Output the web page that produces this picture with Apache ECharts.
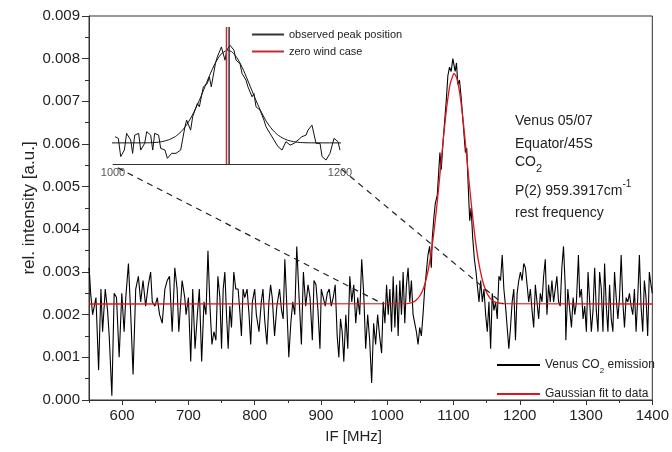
<!DOCTYPE html>
<html>
<head>
<meta charset="utf-8">
<script src="https://cdn.jsdelivr.net/npm/echarts@6/dist/echarts.min.js"></script>
<style>html,body{margin:0;padding:0;background:#fff}#c{width:672px;height:452px}</style>
</head>
<body>
<div id="c"></div>
<script>
// ---- main spectrum (IF in MHz, relative intensity) ----
const ifMHz = [550,551,552.5,555.5,560.5,564.5,568,570.5,574.5,578,580.5,584.5,588,591.5,595.5,599.5,603,605.5,609.5,613,616.5,620.5,624.5,628,631.5,635.5,639.5,643,645.5,649.5,653,656.5,660.5,664.5,668,671.5,675.5,679.5,683,685.5,690.5,694.5,
696.5,700,703.5,706.5,710,713.5,716.5,720,723.5,726.5,729.5,732.5,735.5,738.5,741.5,744.5,747.5,750,752.5,755,757.5,760,762.5,765,768.5,771.5,775,777.5,780,782.5,785,788.5,791.5,794,796.5,800,802.5,806.5,810,812.5,815,818.5,821.5,824,826.5,830,833.5,837.5,840.5,
843,845.5,848.5,851.5,854.5,857.5,860.5,863.5,867,870.5,873.5,877,880.5,883.5,887,889.5,892.5,895.5,898.5,900.5,903.5,906.5,909.5,912.5,915.5,918.5,921.5,924.5,927,929.5,932,934.5,937.5,940.5,943.5,946.5,949.5,952.5,955.5,958.5,961.5,964.5,967.5,970.5,973.5,976.5,979.5,982.5,985.5,988.5,
991.5,994,996.5,999,1001.5,1004,1006.5,1009,1011.5,1014,1016.5,1019,1021.5,1024,1026.5,1029,1031.5,1034,1036.5,1039,1041.5,1044,1046.5,1049,1051.5,1054,1056.5,1059,1061.5,1064,1066.5,1068,1070.5,1072.5,1075.5,1077.5,1079.5,1081.5,1084,1086.5,1089,1091.5,1094,1096.5,1099,1100.5,1102.5,1104.5,1106.5,1109,1111.5,1114,1116.5,1118,1120,1122.5,1124.5,1126.5,1129,1131.5,1134,1136.5,
1138.5,1141,1143.5,1146,1148.5,1151,1153.5,1156,1158.5,1161,1163.5,1166,1168.5,1171,1173.5,1176,1178.5,1181,1183.5,1186,1188.5,1191,1193.5,1196,1198.5,1201,1203.5,1206,1208.5,1211,1213.5,1216,1218.5,1221,1223.5,1226,1228.5,1231,1233.5,1236,1238.5,1241,1243.5,1246,1248.5,1251,1253.5,1256,1258.5,1261,1263.5,1266,1268.5,
1269.5,1272.5,1275.5,1278,1280.5,1283,1285.5,1288.5,1290.5,1293,1295.5,1298,1300.5,1303,1305.5,1308,1310.5,1313,1315.5,1318,1320.5,1323,1325.5,1328,1330.5,1333,1335.5,1338,1340.5,1343,1345.5,1348,1350.5,1353,1355.5,1358,1360.5,1363,1365.5,1368,1370.5,1373,1375.5,1378,1380.5,1383,1385.5,1388,1390.5,1393,1395.5,1398,1400];
const intensity = [0.0031,0.0029,0.0025,0.0020,0.0024,0.0007,0.0026,0.0016,0.0026,0.0021,0.0015,0.0001,0.0025,0.0024,0.0010,0.0025,0.0016,0.0024,0.0032,0.0020,0.0006,0.0026,0.0029,0.0023,0.0028,0.0022,0.0027,0.0030,0.0023,0.0022,0.0024,0.0020,0.0018,0.0026,0.0028,0.0029,0.0016,0.0031,0.0026,0.0016,0.0028,0.0024,
0.0020,0.0024,0.0009,0.0026,0.0012,0.0020,0.0026,0.0009,0.0023,0.0020,0.0035,0.0022,0.0013,0.0016,0.0014,0.0029,0.0024,0.0012,0.0026,0.0030,0.0020,0.0012,0.0022,0.0017,0.0030,0.0026,0.0026,0.0021,0.0015,0.0026,0.0024,0.0026,0.0020,0.0013,0.0023,0.0026,0.0020,0.0016,0.0023,0.0026,0.0019,0.0013,0.0023,0.0027,0.0024,0.0015,0.0022,0.0026,0.0021,
0.0019,0.0033,0.0022,0.0010,0.0018,0.0023,0.0020,0.0036,0.0024,0.0013,0.0030,0.0022,0.0027,0.0024,0.0014,0.0028,0.0027,0.0021,0.0012,0.0026,0.0024,0.0022,0.0025,0.0026,0.0022,0.0024,0.0027,0.0015,0.0010,0.0019,0.0016,0.0009,0.0020,0.0012,0.0029,0.0023,0.0027,0.0018,0.0024,0.0020,0.0033,0.0025,0.0012,0.0020,0.0014,0.0004,0.0018,0.0013,0.0020,0.0015,
0.0011,0.0023,0.0018,0.0027,0.0020,0.0026,0.0016,0.0029,0.0017,0.0027,0.0015,0.0028,0.0020,0.0030,0.0018,0.0027,0.0031,0.0023,0.0028,0.0020,0.0018,0.0016,0.0013,0.0017,0.0015,0.0020,0.0026,0.0030,0.0034,0.0036,0.0031,0.0038,0.0043,0.0046,0.0048,0.0053,0.0058,0.0054,0.0060,0.0065,0.0070,0.0076,0.0078,0.0077,0.0080,0.0080,0.0077,0.0079,0.0074,0.0075,0.0071,0.0066,0.0061,0.0058,0.0059,0.0049,0.0042,0.0045,0.0038,0.0033,0.0030,0.0026,
0.0023,0.0028,0.0023,0.0026,0.0020,0.0016,0.0023,0.0012,0.0025,0.0021,0.0023,0.0019,0.0029,0.0028,0.0034,0.0026,0.0022,0.0017,0.0012,0.0017,0.0023,0.0026,0.0014,0.0025,0.0028,0.0030,0.0028,0.0032,0.0031,0.0027,0.0023,0.0026,0.0021,0.0017,0.0027,0.0023,0.0019,0.0025,0.0023,0.0029,0.0033,0.0020,0.0027,0.0023,0.0028,0.0023,0.0026,0.0029,0.0023,0.0022,0.0031,0.0036,0.0027,
0.0014,0.0026,0.0021,0.0017,0.0024,0.0020,0.0023,0.0034,0.0024,0.0026,0.0019,0.0022,0.0016,0.0030,0.0023,0.0016,0.0021,0.0031,0.0021,0.0016,0.0030,0.0026,0.0016,0.0032,0.0022,0.0016,0.0027,0.0019,0.0016,0.0030,0.0024,0.0019,0.0024,0.0034,0.0023,0.0017,0.0024,0.0023,0.0025,0.0022,0.0020,0.0026,0.0016,0.0024,0.0034,0.0022,0.0016,0.0028,0.0024,0.0015,0.0030,0.0027,0.0025];

// ---- Gaussian fit ----
const fitMHz = [550,1030,1040,1045,1050,1055,1060,1065,1070,1075,1080,1085,1090,1095,1100,1101,1105,1110,1115,1120,1125,1130,1135,1140,1145,1150,1155,1160,1165,1175,1400];
const fitValues = [0.00225,0.00226,0.00230,0.00236,0.00246,0.00263,0.00291,0.00332,0.00388,0.00457,0.00536,0.00617,0.00689,0.00741,0.00764,0.00765,0.00754,0.00713,0.00648,0.00569,0.00488,0.00414,0.00352,0.00306,0.00273,0.00252,0.00239,0.00232,0.00228,0.00226,0.00225];

// ---- inset spectrum (1000-1200 MHz) ----
const insetMHz = [1001.8,1004.7,1006.8,1010.0,1012.0,1015.6,1017.3,1019.1,1022.6,1024.4,1027.9,1029.7,1033.2,1035.0,1036.7,1040.2,1042.0,1045.8,1047.9,1051.7,1055.5,1059.6,1063.4,1064.9,1068.4,1070.2,1074.3,1076.1,1079.6,1083.1,1084.9,1086.6,1090.2,1091.9,1095.5,1098.7,1100.2,1103.1,1106.6,1108.4,1111.9,1113.7,1117.2,1118.9,1122.5,1124.2,1126.0,1129.5,1133.0,1134.8,1138.3,1141.9,1145.4,1148.9,1152.4,1156.0,1159.5,1163.0,1166.5,1170.1,1171.8,1175.3,1178.9,1182.4,1184.2,1187.7,1191.2,1194.7,1198.2,1200.0];
const insetValues = [0.00262,0.00252,0.00146,0.00184,0.00281,0.00242,0.00165,0.00271,0.00281,0.00184,0.00223,0.00291,0.00271,0.00184,0.00281,0.00271,0.00194,0.00184,0.00136,0.00165,0.00165,0.00184,0.00320,0.00358,0.00300,0.00378,0.00455,0.00436,0.00552,0.00571,0.00610,0.00552,0.00687,0.00726,0.00784,0.00707,0.00765,0.00794,0.00765,0.00707,0.00687,0.00629,0.00591,0.00552,0.00494,0.00513,0.00436,0.00417,0.00358,0.00320,0.00281,0.00242,0.00204,0.00184,0.00233,0.00213,0.00223,0.00242,0.00262,0.00271,0.00300,0.00329,0.00223,0.00223,0.00146,0.00126,0.00165,0.00252,0.00233,0.00184];
const observedPeakMHz = 1102.3;
const zeroWindMHz = 1100.0;
const insetYRange = [0.00103, 0.009];

// dashed zoom connectors (main-axis coordinates: from inset corners to the spectrum)
const linkLeft = [[593.5, 0.00544], [994, 0.00225]];
const linkRight = [[931, 0.00541], [1175, 0.00225]];

// ---- ticks ----
const xMajorTicks = [600,700,800,900,1000,1100,1200,1300,1400];
const xMinorTicks = [550,650,750,850,950,1050,1150,1250,1350];

const zip = (a, b) => a.map((v, i) => [v, b[i]]);
const FONT = 'Liberation Sans, Arial, sans-serif';
const plain = v => String(Math.round(v));

const chart = echarts.init(document.getElementById('c'), null, {renderer: 'canvas'});
chart.setOption({
  animation: false,
  backgroundColor: '#fff',
  textStyle: {fontFamily: FONT},
  grid: [
    {left: 89, right: 17, top: 16, bottom: 52, show: true, borderColor: '#333', borderWidth: 1, backgroundColor: 'transparent'},
    {left: 113, right: 332, top: 27, bottom: 288}
  ],
  xAxis: [
    {
      type: 'value', gridIndex: 0, min: 550, max: 1400,
      name: 'IF [MHz]', nameLocation: 'middle', nameGap: 29, nameMoveOverlap: false,
      nameTextStyle: {fontSize: 15, color: '#222', fontFamily: FONT, padding: [0, 34, 0, 0]},
      axisLine: {show: true, onZero: false, lineStyle: {color: '#333', width: 1}},
      axisTick: {show: true, length: 5, customValues: xMajorTicks, lineStyle: {color: '#333'}},
      axisLabel: {customValues: xMajorTicks, fontSize: 15, color: '#222', margin: 8, fontFamily: FONT, formatter: plain},
      splitLine: {show: false}
    },
    {
      type: 'value', gridIndex: 0, min: 550, max: 1400, position: 'bottom',
      axisLine: {show: false},
      axisTick: {show: true, length: 3, customValues: xMinorTicks, lineStyle: {color: '#333'}},
      axisLabel: {show: false},
      splitLine: {show: false}
    },
    {
      type: 'value', gridIndex: 1, min: 1000, max: 1200, interval: 200,
      axisLine: {show: true, onZero: false, lineStyle: {color: '#333', width: 1}},
      axisTick: {show: false},
      axisLabel: {fontSize: 11, color: '#555', margin: 3, fontFamily: FONT, formatter: plain},
      splitLine: {show: false}
    }
  ],
  yAxis: [
    {
      type: 'value', gridIndex: 0, min: 0, max: 0.009, interval: 0.001,
      name: 'rel. intensity [a.u.]', nameLocation: 'middle', nameGap: 51, nameMoveOverlap: false,
      nameTextStyle: {fontSize: 17, color: '#222', fontFamily: FONT},
      axisLine: {show: true, lineStyle: {color: '#333', width: 1}},
      axisTick: {show: true, length: 7, lineStyle: {color: '#333'}},
      minorTick: {show: true, splitNumber: 2, length: 4, lineStyle: {color: '#333'}},
      axisLabel: {fontSize: 15, color: '#222', margin: 9, fontFamily: FONT, formatter: v => v.toFixed(3)},
      splitLine: {show: false}
    },
    {
      type: 'value', gridIndex: 1, min: insetYRange[0], max: insetYRange[1], show: false
    }
  ],
  legend: [
    {
      orient: 'vertical', left: 492, top: 354, itemWidth: 43, itemHeight: 2, itemGap: 13, icon: 'rect',
      data: ['Venus CO2 emission', 'Gaussian fit to data'],
      formatter: name => name === 'Venus CO2 emission' ? '{a|Venus CO}{s|2}{a| emission}' : '{a|Gaussian fit to data}',
      textStyle: {color: '#222', fontFamily: FONT, rich: {
        a: {fontSize: 12, lineHeight: 20, color: '#222', fontFamily: FONT},
        s: {fontSize: 8, lineHeight: 8, verticalAlign: 'bottom', color: '#222', fontFamily: FONT}
      }}
    },
    {
      orient: 'vertical', left: 247, top: 24, itemWidth: 32, itemHeight: 2, itemGap: 6, icon: 'rect',
      data: ['observed peak position', 'zero wind case'],
      textStyle: {fontSize: 11, color: '#222', fontFamily: FONT}
    }
  ],
  series: [
    {name: 'Venus CO2 emission', type: 'line', xAxisIndex: 0, yAxisIndex: 0, data: zip(ifMHz, intensity),
      showSymbol: false, color: '#000', lineStyle: {color: '#000', width: 1.1}},
    {name: 'Gaussian fit to data', type: 'line', xAxisIndex: 0, yAxisIndex: 0, data: zip(fitMHz, fitValues),
      showSymbol: false, smooth: 0.2, color: '#e0141c', lineStyle: {color: '#e0141c', width: 1.3}},
    {name: 'linkL', type: 'line', xAxisIndex: 0, yAxisIndex: 0, data: linkLeft, showSymbol: false,
      color: '#222', lineStyle: {color: '#222', width: 1.2, type: [6, 5]}},
    {name: 'linkR', type: 'line', xAxisIndex: 0, yAxisIndex: 0, data: linkRight, showSymbol: false,
      color: '#222', lineStyle: {color: '#222', width: 1.2, type: [6, 5]}},
    {name: 'inset data', type: 'line', xAxisIndex: 2, yAxisIndex: 1, data: zip(insetMHz, insetValues),
      showSymbol: false, color: '#111', lineStyle: {color: '#111', width: 1}},
    {name: 'inset fit', type: 'line', xAxisIndex: 2, yAxisIndex: 1, data: zip(fitMHz, fitValues), clip: true,
      showSymbol: false, smooth: 0.2, color: '#111', lineStyle: {color: '#111', width: 1}},
    {name: 'observed peak position', type: 'line', xAxisIndex: 2, yAxisIndex: 1,
      data: [[observedPeakMHz, insetYRange[0]], [observedPeakMHz, insetYRange[1]]],
      showSymbol: false, color: '#333', lineStyle: {color: '#333', width: 1.5}},
    {name: 'zero wind case', type: 'line', xAxisIndex: 2, yAxisIndex: 1,
      data: [[zeroWindMHz, insetYRange[0]], [zeroWindMHz, insetYRange[1]]],
      showSymbol: false, color: '#c42a2f', lineStyle: {color: '#c42a2f', width: 1.5}}
  ],
  graphic: [
    {type: 'text', left: 515, top: 114, style: {text: '{a|Venus 05/07}', rich: {a: {fontSize: 14, lineHeight: 24, fill: '#222', fontFamily: FONT}}}},
    {type: 'text', left: 515, top: 137, style: {text: '{a|Equator/45S}', rich: {a: {fontSize: 14, lineHeight: 24, fill: '#222', fontFamily: FONT}}}},
    {type: 'text', left: 515, top: 155, style: {text: '{a|CO}{s|2}', rich: {
      a: {fontSize: 14, lineHeight: 24, fill: '#222', fontFamily: FONT},
      s: {fontSize: 11, lineHeight: 11, verticalAlign: 'bottom', fill: '#222', fontFamily: FONT}}}},
    {type: 'text', left: 515, top: 179, style: {text: '{a|P(2) 959.3917cm}{p|-1}', rich: {
      a: {fontSize: 14, lineHeight: 24, fill: '#222', fontFamily: FONT},
      p: {fontSize: 10, lineHeight: 10, verticalAlign: 'top', fill: '#222', fontFamily: FONT}}}},
    {type: 'text', left: 515, top: 206, style: {text: '{a|rest frequency}', rich: {a: {fontSize: 14, lineHeight: 24, fill: '#222', fontFamily: FONT}}}}
  ]
});
</script>
</body>
</html>
